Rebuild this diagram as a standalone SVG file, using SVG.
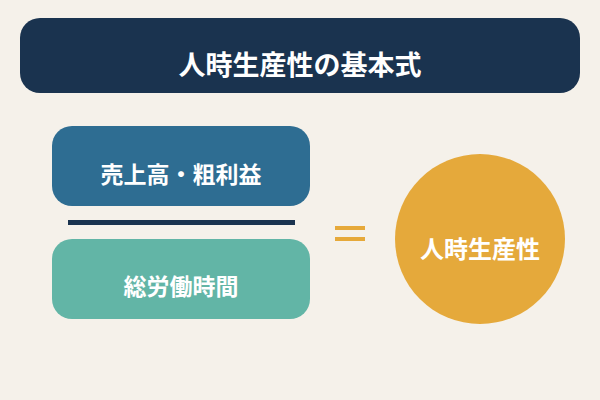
<svg xmlns="http://www.w3.org/2000/svg" width="600" height="400" viewBox="0 0 600 400">
<style>
text{font-family:"Noto Sans CJK JP","Noto Sans CJK SC",sans-serif;font-weight:bold;fill:#ffffff;text-anchor:middle;dominant-baseline:central}
</style>
<rect width="600" height="400" fill="#f5f1ea"/>
<g id="title">
<rect x="20" y="18" width="560" height="75" rx="20" fill="#1a334f"/>
<text x="300" y="63" font-size="27">人時生産性の基本式</text>
</g>
<g id="numerator">
<rect x="52" y="126" width="258" height="80" rx="20" fill="#2e6d92"/>
<text x="181" y="173" font-size="23">売上高・粗利益</text>
</g>
<g id="fraction-line">
<rect x="68" y="220" width="227" height="5" fill="#1a334f"/>
</g>
<g id="denominator">
<rect x="52" y="239" width="258" height="80" rx="20" fill="#62b5a6"/>
<text x="181" y="285" font-size="23">総労働時間</text>
</g>
<g id="equals">
<rect x="335" y="226" width="30" height="4" fill="#e6a93a"/>
<rect x="335" y="237" width="30" height="4" fill="#e6a93a"/>
</g>
<g id="result">
<circle cx="480" cy="239" r="85" fill="#e5a93b"/>
<text x="480" y="247" font-size="24">人時生産性</text>
</g>
</svg>
